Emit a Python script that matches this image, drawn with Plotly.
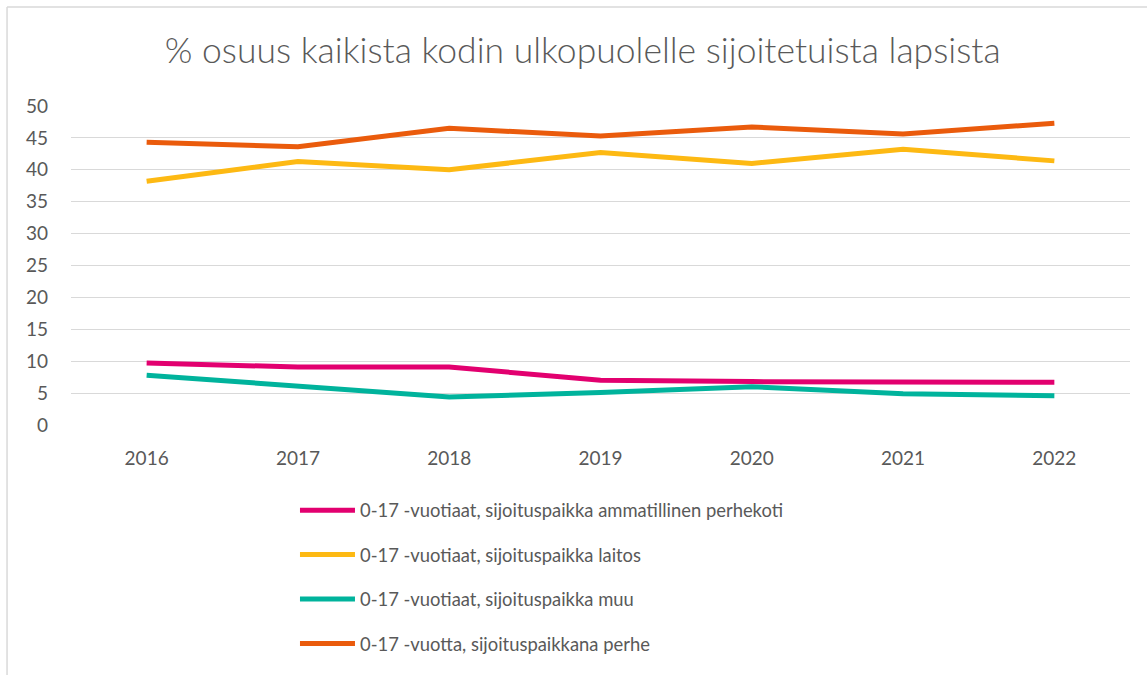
import plotly.graph_objects as go

years = ["2016", "2017", "2018", "2019", "2020", "2021", "2022"]
perhekoti = [9.7, 9.1, 9.1, 7.0, 6.8, 6.8, 6.7]
laitos = [38.2, 41.3, 40.0, 42.7, 41.0, 43.2, 41.4]
muu = [7.8, 6.1, 4.4, 5.1, 6.0, 4.9, 4.6]
perhe = [44.3, 43.6, 46.5, 45.3, 46.7, 45.6, 47.3]

names = [
    "0-17 -vuotiaat, sijoituspaikka ammatillinen perhekoti",
    "0-17 -vuotiaat, sijoituspaikka laitos",
    "0-17 -vuotiaat, sijoituspaikka muu",
    "0-17 -vuotta, sijoituspaikkana perhe",
]
series = [perhekoti, laitos, muu, perhe]
colors = ["#E2006F", "#FDB913", "#00B39C", "#EA5B0C"]

FONT = "Lato"
fig = go.Figure()
for i, (n, s, c) in enumerate(zip(names, series, colors)):
    fig.add_trace(go.Scatter(
        x=years, y=s, name=n, mode="lines",
        line=dict(color=c, width=5),
        legendgroup=f"g{i}",
    ))

fig.update_layout(
    width=1147, height=675,
    margin=dict(l=71, r=17, t=106, b=250, autoexpand=False),
    paper_bgcolor="white", plot_bgcolor="white",
    font=dict(family=FONT, color="#595959", size=18),
    title=dict(text="% osuus kaikista kodin ulkopuolelle sijoitetuista lapsista",
               x=0.508, xanchor="center", xref="container",
               y=0.925, yanchor="middle", yref="container",
               font=dict(family=FONT, size=35.5, color="#595959", weight=300)),
    xaxis=dict(type="category", range=[-0.5, 6.5], showgrid=False, zeroline=False,
               showline=False, ticks="", ticklabelstandoff=20,
               tickfont=dict(size=19, color="#595959")),
    yaxis=dict(range=[0, 50], dtick=5, showgrid=True, gridcolor="#D9D9D9",
               gridwidth=1.3, zeroline=False, showline=False, ticks="",
               ticklabelstandoff=22,
               tickfont=dict(size=19, color="#595959")),
    legend=dict(orientation="v", x=0.2115, xanchor="left", y=-0.209, yanchor="top",
                itemwidth=55, tracegroupgap=17.5, traceorder="grouped",
                font=dict(size=18.4, color="#595959")),
    showlegend=True,
)
fig.add_shape(type="line", xref="paper", yref="paper",
              x0=-0.0604, x1=-0.0604, y0=-0.785, y1=1.31,
              line=dict(color="#D9D9D9", width=1.5))
fig.add_shape(type="line", xref="paper", yref="paper",
              x0=-0.0604, x1=1.02, y0=1.31, y1=1.31,
              line=dict(color="#D9D9D9", width=1.5))
fig.write_html("out.html", config={"displayModeBar": False},
               post_script="document.body.style.margin='0';document.body.style.padding='0';")
